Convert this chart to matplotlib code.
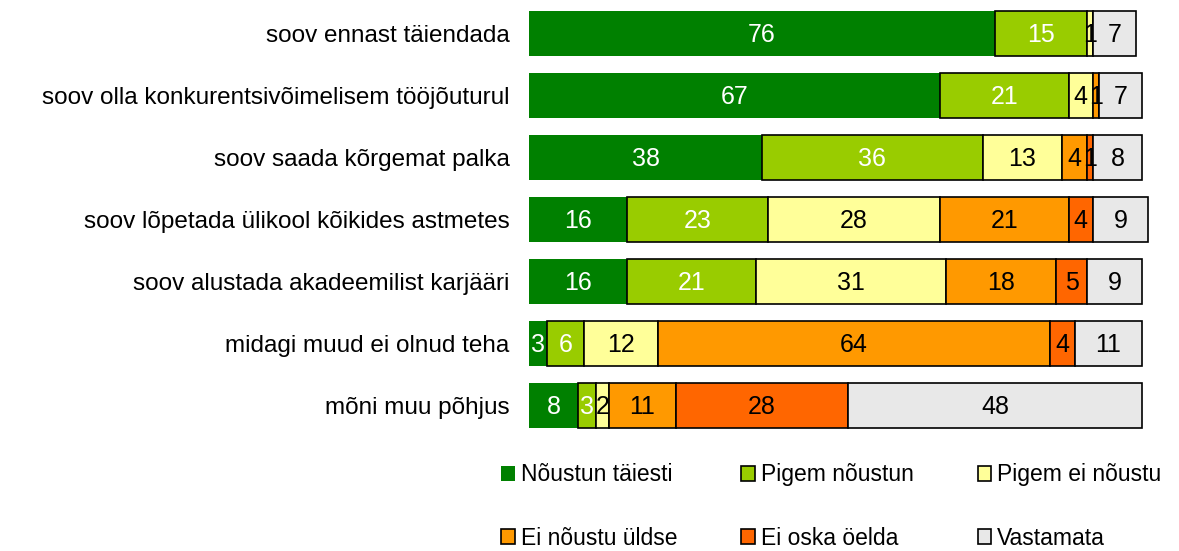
import numpy as np
import matplotlib
matplotlib.use("Agg")
from matplotlib import pyplot as plt

plt.rcParams['font.family'] = ['Liberation Sans', 'DejaVu Sans']

categories = ["soov ennast täiendada",
              "soov olla konkurentsivõimelisem tööjõuturul",
              "soov saada kõrgemat palka",
              "soov lõpetada ülikool kõikides astmetes",
              "soov alustada akadeemilist karjääri",
              "midagi muud ei olnud teha",
              "mõni muu põhjus"]
series_names = ["Nõustun täiesti", "Pigem nõustun", "Pigem ei nõustu",
                "Ei nõustu üldse", "Ei oska öelda", "Vastamata"]
noustun_taiesti = [76, 67, 38, 16, 16, 3, 8]
pigem_noustun = [15, 21, 36, 23, 21, 6, 3]
pigem_ei_noustu = [1, 4, 13, 28, 31, 12, 2]
ei_noustu_uldse = [0, 1, 4, 21, 18, 64, 11]
ei_oska_oelda = [0, 0, 1, 4, 5, 4, 28]
vastamata = [7, 7, 8, 9, 9, 11, 48]

colors = ["#008000", "#99CC00", "#FFFF99", "#FF9900", "#FF6600", "#E8E8E8"]
text_colors = ["white", "white", "black", "black", "black", "black"]

data = [noustun_taiesti, pigem_noustun, pigem_ei_noustu,
        ei_noustu_uldse, ei_oska_oelda, vastamata]

fig = plt.figure(figsize=(11.79, 5.51), dpi=100)
ax = fig.add_axes([0.4487, 0.2078, 0.52, 0.7877])

y = np.arange(len(categories))
left = np.zeros(len(categories))
handles = []
for i, vals in enumerate(data):
    vals = np.array(vals, dtype=float)
    ec = "none" if i == 0 else "black"
    bars = ax.barh(y, vals, left=left, height=0.72, color=colors[i],
                   edgecolor=ec, linewidth=1.2, label=series_names[i],
                   clip_on=False)
    handles.append(bars)
    for yy, l, v in zip(y, left, vals):
        if v > 0:
            ax.text(l + v / 2, yy + 0.03, "%d" % v, ha="center", va="center",
                    color=text_colors[i], fontsize=18, clip_on=False)
    left = left + vals

ax.set_xlim(0, 100)
ax.set_ylim(len(categories) - 0.5, -0.5)
ax.set_yticks(y)
ax.set_yticklabels(categories, fontsize=17.5)
ax.tick_params(axis="y", length=0, pad=14)
ax.set_xticks([])
for s in ax.spines.values():
    s.set_visible(False)

# legend fills column by column, so reorder to get row-wise order
order = [0, 3, 1, 4, 2, 5]
fig.legend(handles=[handles[k] for k in order], loc="upper left",
           bbox_to_anchor=(0.425, 0.159),
           ncol=3, frameon=False, fontsize=16.5, handlelength=0.6,
           handleheight=0.65, handletextpad=0.25, columnspacing=2.8,
           labelspacing=1.76, borderaxespad=0, borderpad=0)

fig.savefig("out.png", dpi=100)
